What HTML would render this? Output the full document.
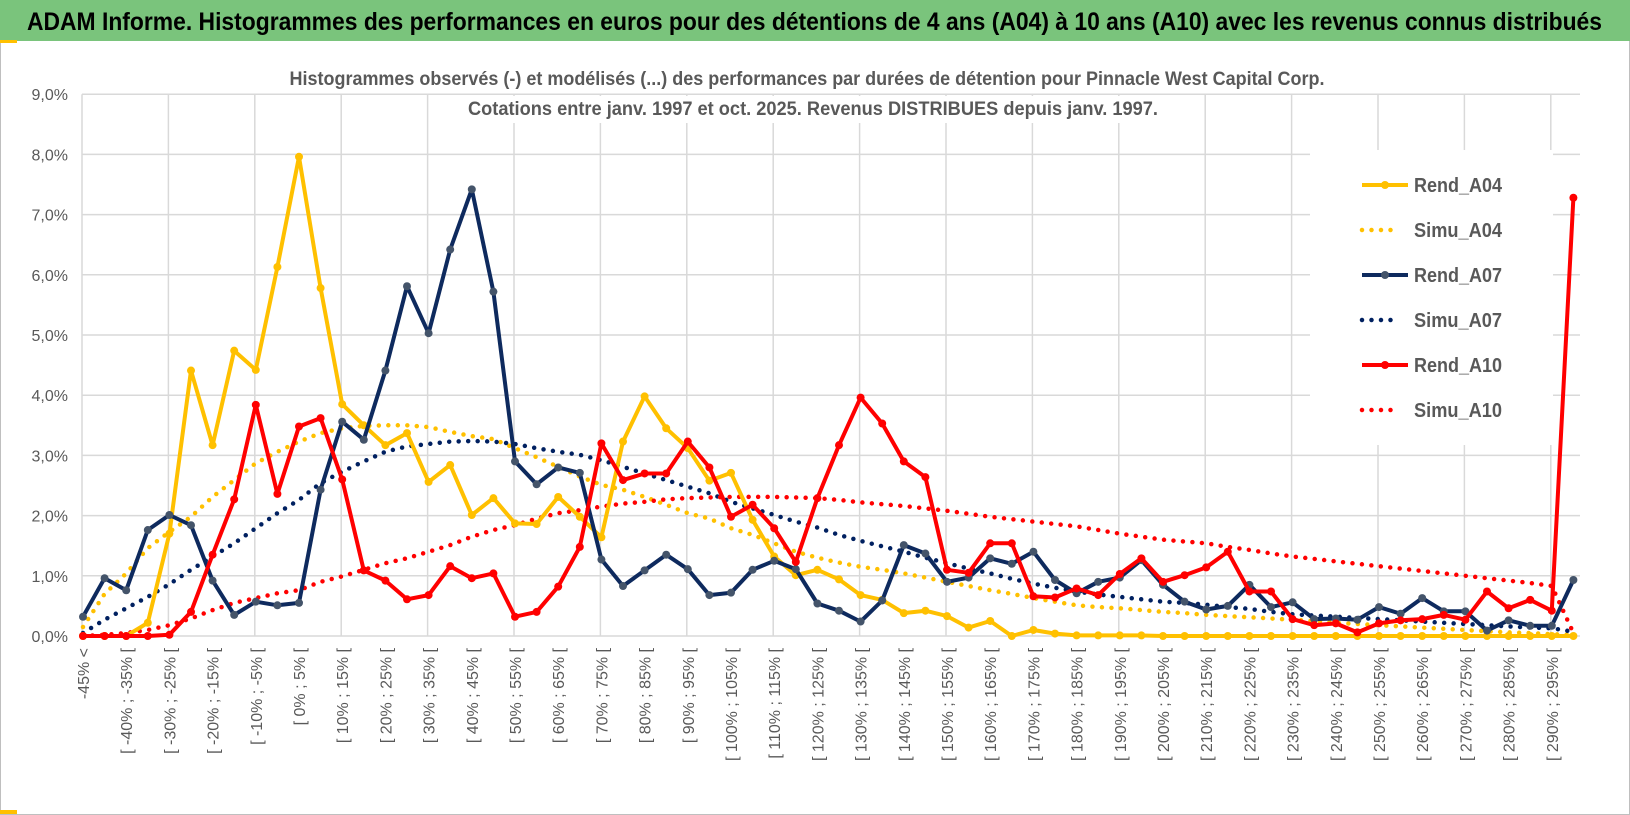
<!DOCTYPE html>
<html><head><meta charset="utf-8"><style>
html,body{margin:0;padding:0;background:#fff;}
svg{display:block;font-family:"Liberation Sans",sans-serif;}
</style></head><body>
<svg id="chart" width="1630" height="815" viewBox="0 0 1630 815">
<rect x="0.5" y="0.5" width="1629" height="814" fill="#fff" stroke="#bfbfbf"/>
<rect x="0" y="0" width="1630" height="41" fill="#7ac47c"/>
<rect x="0" y="40" width="17" height="3" fill="#ffc000"/>
<rect x="0" y="810" width="17" height="4" fill="#ffc000"/>
<text x="27" y="30" font-size="25" font-weight="bold" fill="#000" textLength="1575" lengthAdjust="spacingAndGlyphs">ADAM Informe. Histogrammes des performances en euros pour des détentions de 4 ans (A04) à 10 ans (A10) avec les revenus connus distribués</text>
<g id="grid"></g>
<rect x="285" y="66" width="1045" height="26" fill="#fff"/>
<rect x="462" y="96" width="702" height="27" fill="#fff"/>
<text x="807" y="85" font-size="19" font-weight="bold" fill="#595959" text-anchor="middle" textLength="1035" lengthAdjust="spacingAndGlyphs">Histogrammes observés (-) et modélisés (...) des performances par durées de détention pour Pinnacle West Capital Corp.</text>
<text x="813" y="115" font-size="19" font-weight="bold" fill="#595959" text-anchor="middle" textLength="690" lengthAdjust="spacingAndGlyphs">Cotations entre janv. 1997 et oct. 2025.  Revenus DISTRIBUES depuis janv. 1997.</text>
<g id="ylabels"></g>
<g id="xlabels"></g>
<g id="series"></g>
<g id="legend"></g>
</svg>
<script>
const categories = (function(){const c=["-45% <"];for(let k=-45;k<300;k+=5){c.push("[ "+k+"% ; "+(k+5)+"% [");}return c.slice(0,70);})();
const yTicks = [0,1,2,3,4,5,6,7,8,9];
const yTickLabels = ["0,0%","1,0%","2,0%","3,0%","4,0%","5,0%","6,0%","7,0%","8,0%","9,0%"];
const rendA04 = [0,0,0,0.22,1.7,4.41,3.17,4.74,4.42,6.13,7.96,5.78,3.85,3.5,3.17,3.37,2.56,2.84,2.01,2.29,1.87,1.86,2.31,1.98,1.64,3.23,3.98,3.45,3.12,2.58,2.71,1.93,1.32,1.01,1.1,0.94,0.68,0.6,0.38,0.42,0.33,0.14,0.25,0.0,0.1,0.04,0.01,0.01,0.01,0.01,0,0,0,0,0,0,0,0,0,0,0,0,0,0,0,0,0,0,0,0];
const simuA04 = [0.15,0.7,1.04,1.46,1.73,1.98,2.31,2.59,2.87,3.06,3.23,3.37,3.45,3.49,3.5,3.5,3.47,3.39,3.32,3.27,3.12,2.97,2.81,2.65,2.51,2.43,2.31,2.18,2.04,1.95,1.79,1.68,1.54,1.4,1.3,1.22,1.15,1.1,1.04,0.97,0.9,0.83,0.76,0.7,0.63,0.57,0.51,0.48,0.46,0.43,0.4,0.38,0.35,0.33,0.31,0.29,0.27,0.25,0.22,0.2,0.18,0.16,0.14,0.12,0.1,0.08,0.06,0.05,0.03,0.02];
const rendA07 = [0.32,0.96,0.76,1.76,2.01,1.84,0.92,0.35,0.57,0.51,0.55,2.43,3.56,3.26,4.41,5.81,5.03,6.42,7.42,5.72,2.9,2.52,2.8,2.71,1.27,0.83,1.09,1.35,1.11,0.68,0.72,1.1,1.25,1.11,0.54,0.42,0.24,0.59,1.51,1.37,0.9,0.97,1.29,1.2,1.4,0.93,0.71,0.9,0.97,1.26,0.85,0.57,0.44,0.5,0.85,0.48,0.56,0.28,0.29,0.27,0.48,0.37,0.63,0.41,0.41,0.09,0.26,0.17,0.17,0.93];
const simuA07 = [0.05,0.27,0.46,0.65,0.86,1.1,1.32,1.54,1.79,2.04,2.26,2.54,2.73,2.9,3.06,3.15,3.19,3.23,3.24,3.23,3.19,3.12,3.06,3.01,2.92,2.81,2.7,2.59,2.48,2.37,2.23,2.12,2.01,1.9,1.8,1.68,1.58,1.49,1.4,1.3,1.21,1.12,1.04,0.95,0.87,0.8,0.74,0.69,0.65,0.61,0.57,0.55,0.52,0.48,0.45,0.4,0.36,0.34,0.32,0.3,0.28,0.26,0.24,0.22,0.2,0.18,0.16,0.14,0.13,0.07];
const rendA10 = [0,0,0,0,0.02,0.4,1.35,2.27,3.84,2.36,3.48,3.62,2.6,1.09,0.92,0.61,0.68,1.16,0.96,1.04,0.32,0.4,0.82,1.48,3.2,2.59,2.7,2.7,3.23,2.8,1.98,2.18,1.79,1.23,2.29,3.17,3.96,3.53,2.9,2.64,1.1,1.05,1.54,1.54,0.66,0.64,0.79,0.68,1.03,1.29,0.9,1.01,1.14,1.4,0.74,0.74,0.28,0.18,0.21,0.06,0.21,0.26,0.28,0.35,0.27,0.74,0.46,0.6,0.42,7.28];
const simuA10 = [0,0.02,0.05,0.1,0.18,0.29,0.43,0.55,0.63,0.71,0.76,0.9,0.99,1.1,1.21,1.29,1.4,1.51,1.65,1.76,1.84,1.95,2.04,2.09,2.15,2.2,2.23,2.27,2.29,2.3,2.31,2.31,2.31,2.3,2.29,2.26,2.22,2.19,2.16,2.12,2.08,2.03,1.98,1.94,1.9,1.86,1.82,1.76,1.7,1.65,1.6,1.57,1.54,1.48,1.43,1.37,1.32,1.28,1.24,1.2,1.16,1.12,1.08,1.04,1.0,0.96,0.92,0.88,0.83,0.05];

const NS="http://www.w3.org/2000/svg";
const X0=83, STEP=21.6, Y0=636, YS=60.2;
function xScale(i){return X0+i*STEP;}
function yScale(v){return Y0-v*YS;}
function mk(tag,attrs,parent){const e=document.createElementNS(NS,tag);for(const k in attrs)e.setAttribute(k,attrs[k]);parent.appendChild(e);return e;}

const grid=document.getElementById('grid');
yTicks.forEach(function(t){
  const l=mk('line',{x1:82,x2:1580,y1:yScale(t),y2:yScale(t),stroke:'#d9d9d9','stroke-width':1.5},grid);
  
  
});
for(let i=0;i<categories.length;i+=4){
  const l=mk('line',{x1:xScale(i)-1,x2:xScale(i)-1,y1:yScale(9),y2:Y0,stroke:'#d9d9d9','stroke-width':1.5},grid);
  
  
}
const yl=document.getElementById('ylabels');
yTicks.forEach(function(t,k){
  const tx=mk('text',{x:68,y:yScale(t)+6,'text-anchor':'end','font-size':16,fill:'#595959'},yl);
  tx.textContent=yTickLabels[k];
  
  
});
const xl=document.getElementById('xlabels');
for(let i=0;i<categories.length;i+=2){
  const x=xScale(i)+6, y=648;
  const tx=mk('text',{x:x,y:y,'text-anchor':'end','font-size':16,fill:'#595959',transform:'rotate(-90 '+x+' '+y+')'},xl);
  tx.textContent=categories[i];
  
  
}
const ser=document.getElementById('series');
function pts(arr){return arr.map(function(v,i){return xScale(i).toFixed(1)+','+yScale(v).toFixed(1);}).join(' ');}
function dotted(arr,color,name){
  const p=mk('polyline',{points:pts(arr),fill:'none',stroke:color,'stroke-width':4.5,'stroke-linecap':'round','stroke-dasharray':'0 9.5'},ser);
  
  
}
function solid(arr,color,mcolor,name){
  const p=mk('polyline',{points:pts(arr),fill:'none',stroke:color,'stroke-width':4,'stroke-linejoin':'round'},ser);
  
  
  arr.forEach(function(v,i){
    const c=mk('circle',{cx:xScale(i),cy:yScale(v),r:4,fill:mcolor},ser);
    
    
  });
}
dotted(simuA04,'#ffc000','simu-a04-line');
dotted(simuA07,'#002060','simu-a07-line');
dotted(simuA10,'#ff0000','simu-a10-line');
solid(rendA04,'#ffc000','#ffc000','rend-a04-line');
solid(rendA07,'#0e2a5e','#44546a','rend-a07-line');
solid(rendA10,'#ff0000','#ff0000','rend-a10-line');

const lg=document.getElementById('legend');
const lbg=mk('rect',{x:1310,y:150,width:243,height:295,fill:'#fff'},lg);


const legendNames=["Rend_A04","Simu_A04","Rend_A07","Simu_A07","Rend_A10","Simu_A10"];
const legendColors=["#ffc000","#ffc000","#0e2a5e","#002060","#ff0000","#ff0000"];
const legendDotted=[false,true,false,true,false,true];
legendNames.forEach(function(n,k){
  const y=185+k*45;
  const g=mk('g',{},lg);
  
  
  if(legendDotted[k]){
    mk('line',{x1:1362,x2:1400,y1:y,y2:y,stroke:legendColors[k],'stroke-width':4.5,'stroke-linecap':'round','stroke-dasharray':'0 9.5'},g);
  } else {
    mk('line',{x1:1362,x2:1408,y1:y,y2:y,stroke:legendColors[k],'stroke-width':4},g);
    mk('circle',{cx:1385,cy:y,r:4,fill:k==2?'#44546a':legendColors[k]},g);
  }
  const t=mk('text',{x:1414,y:y+7,'font-size':20,'font-weight':'bold',fill:'#595959',textLength:88,lengthAdjust:'spacingAndGlyphs'},g);
  t.textContent=n;
});
</script>
</body></html>
